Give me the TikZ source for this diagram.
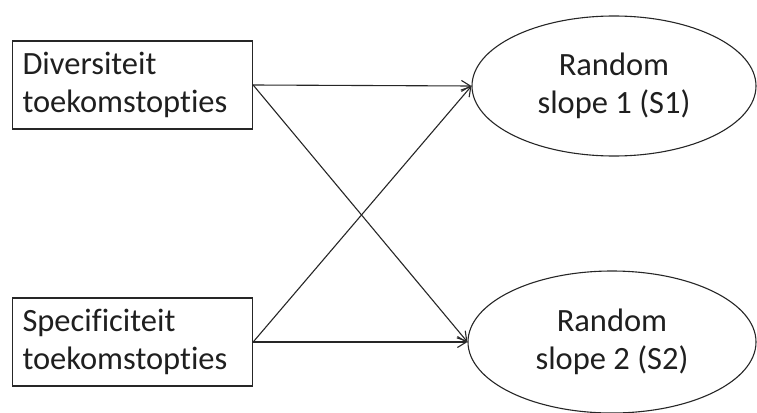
\documentclass[tikz,border=0pt]{standalone}
\usepackage{fontspec}
\setmainfont{Carlito}[Ligatures=NoCommon]
\usetikzlibrary{shapes.geometric,arrows.meta}
\begin{document}
\begin{tikzpicture}[x=1pt,y=-1pt,
  every node/.style={font=\fontsize{32.5}{38}\selectfont, text=black!88},
  varbox/.style={draw=black!85, line width=1.3pt, rectangle, minimum width=240pt, minimum height=88pt, text width=220pt, inner xsep=10pt, align=left},
  slopeell/.style={draw=black!85, line width=1.1pt, ellipse, inner sep=0pt, align=center},
  conn/.style={draw=black!85, line width=1.1pt, -{Straight Barb[length=9pt,width=11pt,line width=1.1pt]}}]
\useasboundingbox (0,0) rectangle (757,412);
\node[varbox] (b1) at (132.5,85) {Diversiteit\\toekomstopties};
\node[varbox] (b2) at (132.5,342) {Specificiteit\\toekomstopties};
\node[slopeell, minimum width=284pt, minimum height=140pt] (e1) at (614,86) {Random\\slope 1 (S1)};
\node[slopeell, minimum width=288pt, minimum height=142pt] (e2) at (612,342) {Random\\slope 2 (S2)};
\draw[conn] (b1.east) -- (e1.west);
\draw[conn] (b1.east) -- (e2.west);
\draw[conn] (b2.east) -- (e1.west);
\draw[conn] (b2.east) -- (e2.west);
\end{tikzpicture}
\end{document}
